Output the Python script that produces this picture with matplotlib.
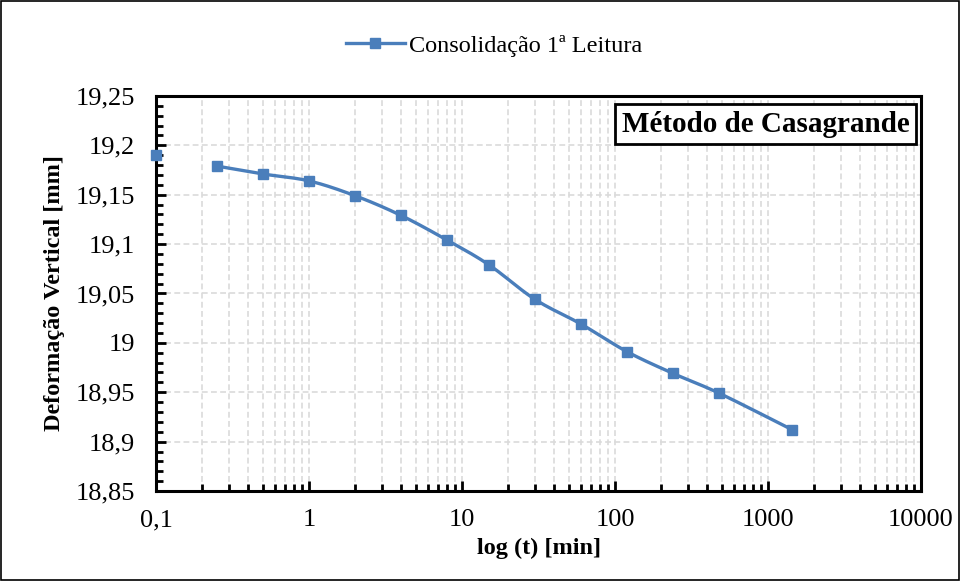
import numpy as np
import matplotlib
matplotlib.use("Agg")
import matplotlib.pyplot as plt
from matplotlib.ticker import FixedLocator, NullFormatter, LogLocator
from matplotlib.patches import Rectangle
from matplotlib.lines import Line2D

plt.rcParams['font.family'] = ['Liberation Serif', 'DejaVu Serif']

# ---- data ----
t_first = [0.1]
d_first = [19.190]
t_min = [0.25, 0.5, 1, 2, 4, 8, 15, 30, 60, 120, 240, 480, 1440]
deform = [19.179, 19.171, 19.164, 19.149, 19.129, 19.104, 19.079, 19.044,
          19.019, 18.991, 18.969, 18.949, 18.912]
x_ticks = [0.1, 1, 10, 100, 1000, 10000]
x_tick_labels = ["0,1", "1", "10", "100", "1000", "10000"]
y_ticks = [18.85, 18.9, 18.95, 19.0, 19.05, 19.1, 19.15, 19.2, 19.25]
y_tick_labels = ["18,85", "18,9", "18,95", "19", "19,05", "19,1", "19,15", "19,2", "19,25"]
series_label = "Consolidação 1ª Leitura"
box_text = "Método de Casagrande"
xlabel = "log (t) [min]"
ylabel = "Deformação Vertical [mm]"

color = "#4A7EBB"

fig = plt.figure(figsize=(9.6, 5.81), dpi=100)
ax = fig.add_axes([0.1625, 0.1549, 0.7969, 0.6799])
ax.set_xscale('log')
ax.set_xlim(0.1, 10000)
ax.set_ylim(18.85, 19.25)

# smooth curve (Bezier through the markers in display-proportional space)
W, H = 765.0, 395.0
lx = np.log10(np.array(t_min, float))
X = (lx + 1) / 5 * W
Y = (np.array(deform) - 18.85) / 0.4 * H
P = np.column_stack([X, Y])
Pp = np.vstack([P[0], P, P[-1]])
pts = []
for i in range(len(P) - 1):
    p0, p1, p2, p3 = Pp[i], Pp[i + 1], Pp[i + 2], Pp[i + 3]
    c1 = p1 + (p2 - p0) / 6
    c2 = p2 - (p3 - p1) / 6
    s = np.linspace(0, 1, 25)[:, None]
    seg = (1 - s) ** 3 * p1 + 3 * (1 - s) ** 2 * s * c1 + 3 * (1 - s) * s ** 2 * c2 + s ** 3 * p2
    pts.append(seg if i == 0 else seg[1:])
pts = np.vstack(pts)
xs = 10 ** (pts[:, 0] / W * 5 - 1)
ys = pts[:, 1] / H * 0.4 + 18.85
ax.plot(xs, ys, color=color, lw=2.4, zorder=3, solid_capstyle='round')
ax.plot(t_min, deform, ls='none', marker='s', ms=7.5, color=color, zorder=4)
ax.plot(t_first, d_first, ls='none', marker='s', ms=7.5, color=color, zorder=4, clip_on=False)

# ticks
ax.xaxis.set_major_locator(FixedLocator(x_ticks))
ax.set_xticklabels(x_tick_labels)
ax.xaxis.set_minor_locator(LogLocator(base=10, subs=np.arange(2, 10)))
ax.xaxis.set_minor_formatter(NullFormatter())
ax.yaxis.set_major_locator(FixedLocator(y_ticks))
ax.set_yticklabels(y_tick_labels)
ax.yaxis.set_minor_locator(FixedLocator(np.arange(18.85, 19.2501, 0.01)))
ax.tick_params(axis='both', which='major', direction='in', length=7, width=2,
               labelsize=19, color='black')
ax.tick_params(axis='x', which='major', pad=13)
ax.tick_params(axis='y', which='major', pad=15)
ax.tick_params(axis='both', which='minor', direction='in', length=5, width=2, color='black')

ax.grid(True, which='major', axis='both', color='#DADADA', ls=(0, (3.5, 2)), lw=1.2, zorder=0)
ax.grid(True, which='minor', axis='x', color='#DADADA', ls=(0, (3.5, 2)), lw=1.2, zorder=0)
ax.set_axisbelow(True)
for sp in ax.spines.values():
    sp.set_linewidth(2.2)
    sp.set_color('black')

ax.set_xlabel(xlabel, fontsize=17.5, fontweight='bold', labelpad=5)
ax.set_ylabel(ylabel, fontsize=17.5, fontweight='bold', labelpad=8)

# text box
ax.text(0.985, 0.929, box_text, transform=ax.transAxes, ha='right', va='center',
        fontsize=21, fontweight='bold', zorder=6,
        bbox=dict(boxstyle='square,pad=0.22', fc='white', ec='black', lw=2))

# legend
handle = Line2D([], [], color=color, lw=2.4, marker='s', ms=7.5)
fig.legend([handle], [series_label], loc='center', bbox_to_anchor=(0.515, 0.921),
           frameon=False, fontsize=17.5, handlelength=2.4, handletextpad=0.2)

# figure border
fig.patches.append(Rectangle((0.001, 0.001), 0.998, 0.998, transform=fig.transFigure,
                             fill=False, ec='black', lw=1.2))

fig.savefig("out.png", dpi=100)
